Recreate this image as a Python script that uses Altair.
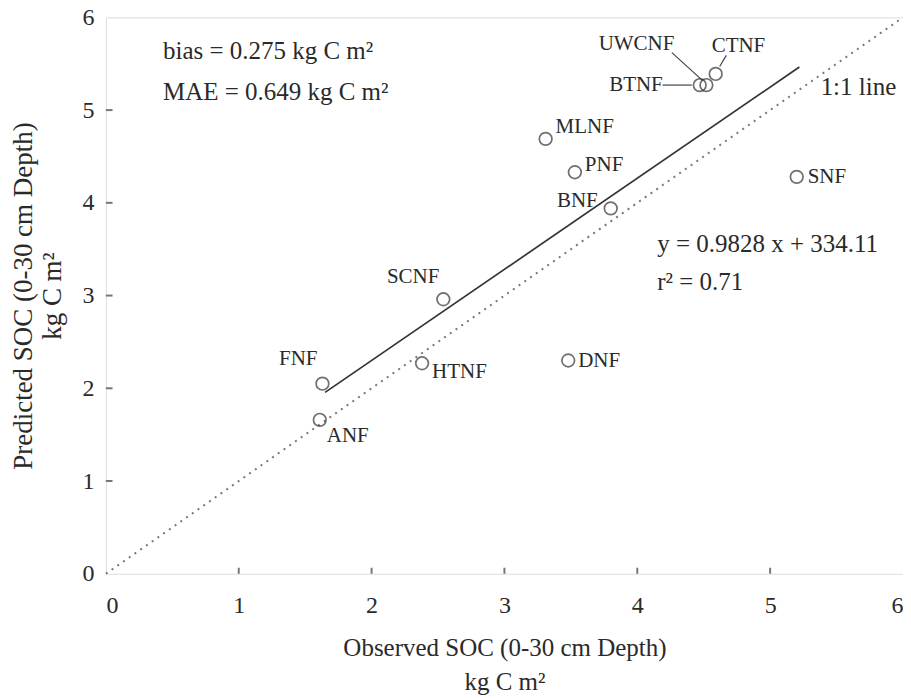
import altair as alt
import pandas as pd

# ---- data ----
sites = ["ANF", "FNF", "HTNF", "SCNF", "DNF", "MLNF", "PNF", "BNF", "SNF", "BTNF", "UWCNF", "CTNF"]
observed = [1.61, 1.63, 2.38, 2.54, 3.48, 3.31, 3.53, 3.80, 5.20, 4.47, 4.52, 4.59]
predicted = [1.66, 2.05, 2.27, 2.96, 2.30, 4.69, 4.33, 3.94, 4.28, 5.27, 5.27, 5.39]
label_align = ["left", "right", "left", "right", "left", "left", "left", "right", "left", "right", "right", "left"]
label_dx = [7, -5, 10, -4, 10, 10, 10, -13, 11, -37, -32, -4]
label_dy = [16, -25, 9, -22, 1, -12, -7, -7, 0, 0, -41, -28]

slope = 0.9828
intercept = 0.334
fit_x = [1.65, 5.22]
one_to_one = [0, 6]

leader_x = [4.19, 4.26, 4.67]
leader_x2 = [4.41, 4.49, 4.62]
leader_y = [5.27, 5.62, 5.59]
leader_y2 = [5.27, 5.32, 5.47]

ticks = [1, 2, 3, 4, 5]
axis_values = [0, 1, 2, 3, 4, 5, 6]

notes = ["bias = 0.275 kg C m²", "MAE = 0.649 kg C m²", "y = 0.9828 x + 334.11", "r² = 0.71", "1:1 line"]
note_x = [0.43, 0.43, 4.15, 4.15, 5.38]
note_y = [5.64, 5.19, 3.56, 3.15, 5.25]

FONT = "Liberation Serif"
INK = "#2a2a2a"

pts = pd.DataFrame({"obs": observed, "pred": predicted, "site": sites})
fit = pd.DataFrame({"obs": fit_x, "pred": [slope * v + intercept for v in fit_x]})
ident = pd.DataFrame({"obs": one_to_one, "pred": one_to_one})
leaders = pd.DataFrame({"x": leader_x, "x2": leader_x2, "y": leader_y, "y2": leader_y2})
tk = pd.DataFrame({"v": ticks})
nt = pd.DataFrame({"t": notes, "x": note_x, "y": note_y})

xs = alt.Scale(domain=[0, 6], nice=False, zero=False)
ys = alt.Scale(domain=[0, 6], nice=False, zero=False)

xaxis = alt.Axis(values=axis_values, format="d", ticks=False, domain=False, grid=False,
                 labelFont=FONT, labelFontSize=24, labelColor=INK, labelPadding=20,
                 title=["Observed SOC (0-30 cm Depth)", "kg C m²"],
                 titleFont=FONT, titleFontSize=25, titleFontWeight="normal", titleColor=INK,
                 titleLineHeight=34, titlePadding=18)
yaxis = alt.Axis(values=axis_values, format="d", ticks=False, domain=False, grid=False,
                 labelFont=FONT, labelFontSize=24, labelColor=INK, labelPadding=12,
                 title=["Predicted SOC (0-30 cm Depth)", "kg C m²"],
                 titleFont=FONT, titleFontSize=27, titleFontWeight="normal", titleColor=INK,
                 titleLineHeight=29, titlePadding=15)

base_x = alt.X("obs:Q", scale=xs, axis=xaxis)
base_y = alt.Y("pred:Q", scale=ys, axis=yaxis)

identity = alt.Chart(ident).mark_line(color="#777", strokeWidth=2, strokeDash=[2, 5]).encode(
    x=base_x, y=base_y)
fitline = alt.Chart(fit).mark_line(color="#333", strokeWidth=1.7).encode(x="obs:Q", y="pred:Q")
points = alt.Chart(pts).mark_point(shape="circle", filled=False, size=160, color="#333",
                                   strokeWidth=1.7).encode(x="obs:Q", y="pred:Q")

labels = []
for i in range(len(sites)):
    d = pts.iloc[[i]]
    labels.append(alt.Chart(d).mark_text(font=FONT, fontSize=21, color=INK,
                                         align=label_align[i], baseline="middle",
                                         dx=label_dx[i], dy=label_dy[i]).encode(
        x="obs:Q", y="pred:Q", text="site:N"))

lead = alt.Chart(leaders).mark_rule(color="#444", strokeWidth=1.2).encode(
    x="x:Q", x2="x2:Q", y="y:Q", y2="y2:Q")

xt = alt.Chart(tk).mark_rule(color="#777", strokeWidth=2).encode(
    x="v:Q", y=alt.datum(0), y2=alt.datum(0.065))
yt = alt.Chart(tk).mark_rule(color="#777", strokeWidth=2).encode(
    y="v:Q", x=alt.datum(0), x2=alt.datum(0.05))

note_txt = alt.Chart(nt).mark_text(font=FONT, fontSize=25, color=INK, align="left",
                                   baseline="middle").encode(x="x:Q", y="y:Q", text="t:N")

chart = alt.layer(identity, fitline, lead, points, *labels, xt, yt, note_txt).properties(
    width=798, height=557,
    autosize=alt.AutoSizeParams(type="none"),
    padding={"left": 98, "top": 9, "right": 0, "bottom": 124},
).configure_view(stroke="#777", strokeWidth=2).configure(background="white")

chart.save("out.html", embed_options={"renderer": "svg", "actions": False})
